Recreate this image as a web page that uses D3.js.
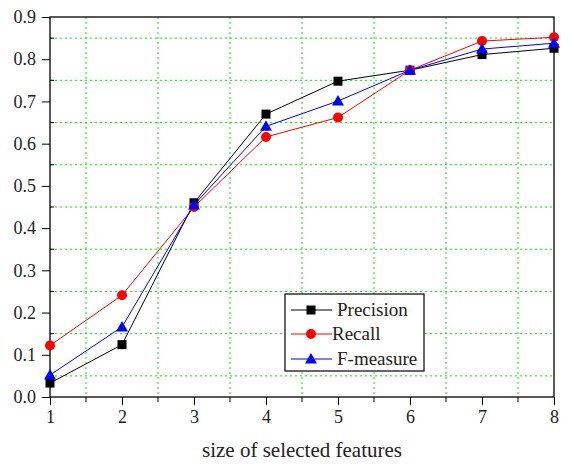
<!DOCTYPE html>
<html><head><meta charset="utf-8">
<script src="https://cdn.jsdelivr.net/npm/d3@7"></script>
<style>body{margin:0;background:#fff}</style>
</head><body>
<svg id="c" width="568" height="465"></svg>
<script>
const sizes = [1,2,3,4,5,6,7,8];
const precision = [0.033,0.124,0.460,0.670,0.748,0.774,0.811,0.826];
const recall = [0.122,0.241,0.450,0.616,0.662,0.774,0.843,0.852];
const fmeasure = [0.052,0.166,0.455,0.641,0.701,0.774,0.824,0.838];
const yTicks = [0.0,0.1,0.2,0.3,0.4,0.5,0.6,0.7,0.8,0.9];
const seriesNames = ["Precision","Recall","F-measure"];

const FONT = "Liberation Serif";
const svg = d3.select("#c").style("font-family", FONT);
const L=50,R=554,T=17,B=397;
const x = d3.scaleLinear().domain([1,8]).range([L,R]);
const y = d3.scaleLinear().domain([0,0.9]).range([B,T]);

const gx = d3.range(1.5,8,1), gy = d3.range(0.05,0.9,0.1);
const grid = svg.append("g").attr("stroke","#00ee00").attr("stroke-width",1).attr("stroke-dasharray","2,3");
grid.selectAll(".gx").data(gx).join("line").attr("x1",d=>x(d)).attr("x2",d=>x(d)).attr("y1",T).attr("y2",B);
grid.selectAll(".gy").data(gy).join("line").attr("y1",d=>y(d)).attr("y2",d=>y(d)).attr("x1",L).attr("x2",R);

svg.append("rect").attr("x",L).attr("y",T).attr("width",R-L).attr("height",B-T).attr("fill","none").attr("stroke","#000").attr("stroke-width",1.3);

const xAxis = svg.append("g").attr("transform",`translate(0,${B})`)
  .call(d3.axisBottom(x).tickValues(sizes).tickFormat(d3.format("d")).tickSize(8).tickPadding(5));
const yAxis = svg.append("g").attr("transform",`translate(${L},0)`)
  .call(d3.axisLeft(y).tickValues(yTicks).tickFormat(d3.format(".1f")).tickSize(8).tickPadding(6));
[xAxis,yAxis].forEach(a=>{a.attr("font-family",FONT);a.select(".domain").remove();a.selectAll("text").style("font-family",FONT).style("font-size","18px").attr("fill","#222");a.selectAll("line").attr("stroke","#000");});
svg.append("g").selectAll("line").data(gx).join("line").attr("x1",d=>x(d)).attr("x2",d=>x(d)).attr("y1",B).attr("y2",B+5).attr("stroke","#000");
svg.append("g").selectAll("line").data(gy).join("line").attr("y1",d=>y(d)).attr("y2",d=>y(d)).attr("x1",L).attr("x2",L+4).attr("stroke","#000");

svg.append("text").attr("x",(L+R)/2).attr("y",457).attr("text-anchor","middle").style("font-family",FONT).style("font-size","21px").attr("fill","#222").text("size of selected features");

const cols = ["#000000","#ff0000","#0000ff"];
const data = [precision,recall,fmeasure];
const line = d3.line().x((d,i)=>x(sizes[i])).y(d=>y(d));
function marker(g,k,cx,cy){
  if(k===0) g.append("rect").attr("x",cx-4.5).attr("y",cy-4.5).attr("width",9).attr("height",9).attr("fill",cols[k]);
  else if(k===1) g.append("circle").attr("cx",cx).attr("cy",cy).attr("r",5).attr("fill",cols[k]);
  else g.append("path").attr("d",`M${cx},${cy-6}L${cx+6},${cy+4.5}L${cx-6},${cy+4.5}Z`).attr("fill",cols[k]);
}
data.forEach((vals,k)=>{
  svg.append("path").datum(vals).attr("d",line).attr("fill","none").attr("stroke",cols[k]).attr("stroke-width",1);
});
data.forEach((vals,k)=>{
  const g=svg.append("g");
  vals.forEach((v,i)=>marker(g,k,x(sizes[i]),y(v)));
});

const lg = svg.append("g");
lg.append("rect").attr("x",285).attr("y",294).attr("width",139).attr("height",77).attr("fill","#fff").attr("stroke","#000").attr("stroke-width",1.2);
const ly=[310,334,359];
seriesNames.forEach((n,k)=>{
  lg.append("line").attr("x1",291).attr("x2",332).attr("y1",ly[k]).attr("y2",ly[k]).attr("stroke",cols[k]).attr("stroke-width",1);
  marker(lg,k,311,ly[k]);
  lg.append("text").attr("x",k===1?332:337).attr("y",ly[k]+6).style("font-family",FONT).style("font-size","19px").attr("fill","#222").text(n);
});
</script>
</body></html>
